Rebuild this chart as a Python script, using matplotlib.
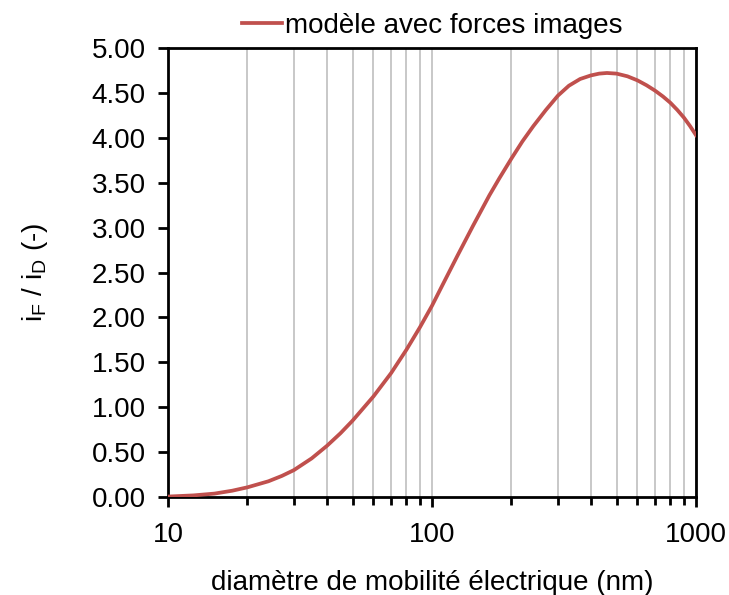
import numpy as np
import matplotlib.pyplot as plt
from matplotlib.ticker import LogLocator, NullFormatter, FixedLocator, FuncFormatter

plt.rcParams['font.family'] = ['Liberation Sans', 'DejaVu Sans']
plt.rcParams['mathtext.fontset'] = 'custom'
plt.rcParams['mathtext.rm'] = 'Liberation Sans'
plt.rcParams['mathtext.it'] = 'Liberation Sans'

# values
diameter_nm = [10, 12.5, 15, 17.5, 20, 24, 27, 30, 35, 40, 45, 50, 60, 70, 80, 90, 100,
               110, 125, 143, 165, 180, 200, 220, 242, 270, 300, 330, 364, 400, 430,
               460, 500, 550, 600, 650, 700, 750, 800, 850, 900, 950, 1000]
ratio_if_id = [0.005, 0.018, 0.038, 0.07, 0.108, 0.175, 0.235, 0.30, 0.43, 0.57, 0.71, 0.85, 1.12, 1.38, 1.64, 1.89, 2.13,
               2.37, 2.69, 3.02, 3.36, 3.55, 3.77, 3.96, 4.13, 4.31, 4.47, 4.58, 4.655, 4.695, 4.715,
               4.722, 4.715, 4.685, 4.64, 4.585, 4.525, 4.46, 4.39, 4.31, 4.225, 4.13, 4.03]

line_color = '#C0504D'
y_ticks = np.arange(0, 5.01, 0.5)

fig = plt.figure(figsize=(7.29, 5.95), dpi=100)
ax = fig.add_axes([0.2305, 0.1647, 0.7242, 0.7546])

ax.plot(diameter_nm, ratio_if_id, color=line_color, lw=2.7, label='modèle avec forces images',
        solid_joinstyle='round', zorder=3)

ax.set_xscale('log')
ax.set_xlim(10, 1000)
ax.set_ylim(0, 5)
ax.xaxis.set_major_locator(FixedLocator([10, 100, 1000]))
ax.xaxis.set_major_formatter(FuncFormatter(lambda v, p: '%d' % v))
ax.xaxis.set_minor_locator(LogLocator(base=10, subs=np.arange(2, 10)))
ax.xaxis.set_minor_formatter(NullFormatter())
ax.set_yticks(y_ticks)
ax.set_yticklabels(['%.2f' % v for v in y_ticks])

ax.grid(True, which='both', axis='x', color='#BFBFBF', lw=1.2)
ax.set_axisbelow(True)

for s in ax.spines.values():
    s.set_linewidth(2)
    s.set_color('black')

ax.tick_params(axis='both', which='major', direction='out', length=7, width=2,
               labelsize=20, pad=9)
ax.tick_params(axis='x', which='minor', direction='out', length=6, width=2)
ax.tick_params(axis='x', which='major', pad=11)

ax.set_xlabel('diamètre de mobilité électrique (nm)', fontsize=20, labelpad=16)
ax.set_ylabel(r'i$_{\rm F}$ / i$_{\rm D}$ (-)', fontsize=20, labelpad=30)

ax.legend(loc='lower center', bbox_to_anchor=(0.5, 0.99), frameon=False, fontsize=20,
          handlelength=1.45, handletextpad=0.1, borderaxespad=0.1)

fig.savefig('out.png', dpi=100)
